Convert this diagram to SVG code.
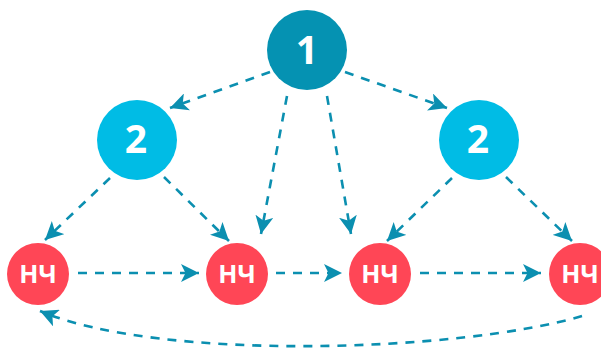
<svg xmlns="http://www.w3.org/2000/svg" width="601" height="349" viewBox="0 0 601 349">
<style>
.e{fill:none;stroke:#0b8fb0;stroke-width:2.6;stroke-dasharray:9 8;marker-end:url(#ah)}
.n1{fill:#0592b2}
.n2{fill:#00bce5}
.n3{fill:#ff4656}
.t{fill:#fff;font-family:"Open Sans","Liberation Sans",sans-serif;font-weight:bold;text-anchor:middle}
.big{font-size:39px}
.sm{font-size:25px}
</style>
<defs>
<marker id="ah" markerUnits="userSpaceOnUse" markerWidth="20" markerHeight="18" refX="18" refY="9" orient="auto" viewBox="0 0 20 18">
<path d="M0,0 L18,9 L0,18 L4.5,9 z" fill="#0b8fb0"/>
</marker>
</defs>
<g id="connectors">
<line class="e" x1="270" y1="72" x2="170" y2="108"/>
<line class="e" x1="345" y1="72" x2="447" y2="108"/>
<line class="e" x1="287" y1="96" x2="261" y2="234"/>
<line class="e" x1="327" y1="96" x2="351" y2="234"/>
<line class="e" x1="110" y1="178" x2="45" y2="240"/>
<line class="e" x1="164" y1="177" x2="229" y2="241"/>
<line class="e" x1="452" y1="178" x2="387" y2="241"/>
<line class="e" x1="506" y1="177" x2="572" y2="241"/>
<line class="e" x1="78" y1="273" x2="199" y2="273"/>
<line class="e" x1="276" y1="273" x2="342" y2="273"/>
<line class="e" x1="420" y1="273" x2="541" y2="273"/>
<path class="e" d="M582 316 C460 352,160 362,40 311"/>
</g>
<g id="node-1"><circle class="n1" cx="307" cy="50" r="40"/><text class="t big" x="307" y="64">1</text></g>
<g id="node-2a"><circle class="n2" cx="137" cy="140" r="40"/><text class="t big" x="136" y="153">2</text></g>
<g id="node-2b"><circle class="n2" cx="479" cy="140" r="40"/><text class="t big" x="478" y="153">2</text></g>
<g id="node-nch1"><circle class="n3" cx="38" cy="274" r="31"/><text class="t sm" x="38" y="283">НЧ</text></g>
<g id="node-nch2"><circle class="n3" cx="237" cy="274" r="31"/><text class="t sm" x="237" y="283">НЧ</text></g>
<g id="node-nch3"><circle class="n3" cx="380" cy="274" r="31"/><text class="t sm" x="380" y="283">НЧ</text></g>
<g id="node-nch4"><circle class="n3" cx="580" cy="274" r="31"/><text class="t sm" x="580" y="283">НЧ</text></g>
</svg>
